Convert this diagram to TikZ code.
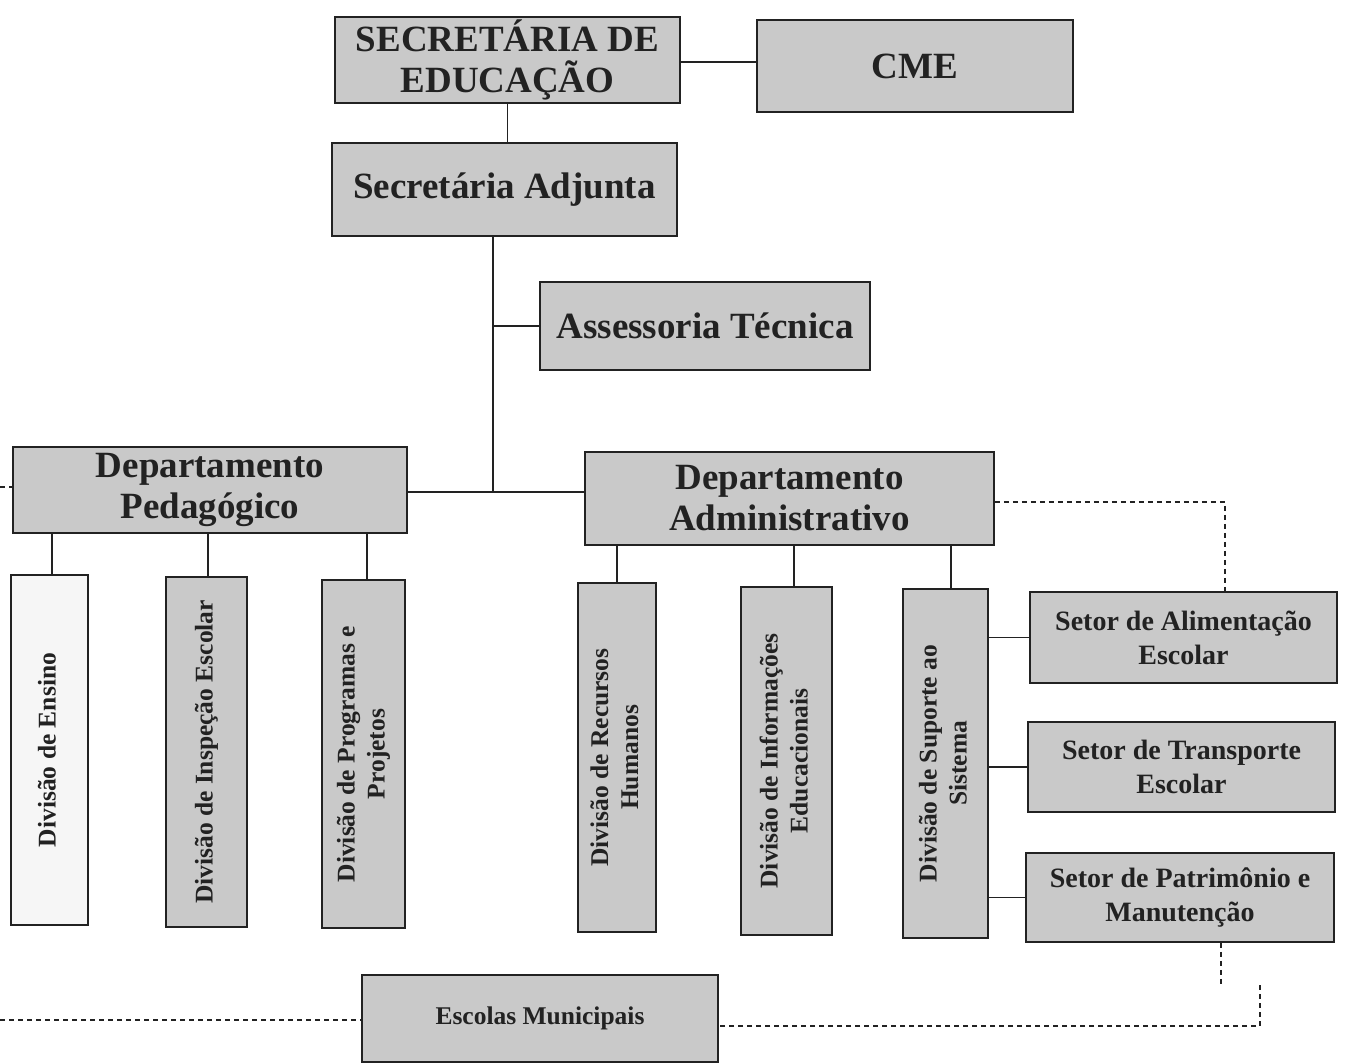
\documentclass[tikz,border=0pt]{standalone}
\usepackage{fontspec}
\setmainfont{Liberation Serif}
\usepackage{graphicx}
\definecolor{boxgray}{HTML}{C9C9C9}
\definecolor{boxwhite}{HTML}{F6F6F6}
\definecolor{ink}{HTML}{222222}
\newcommand{\vlabel}[1]{\rotatebox{90}{\begin{tabular}{@{}c@{}}#1\end{tabular}}}
\begin{document}
\begin{tikzpicture}[x=1pt,y=-1pt,
  box/.style={draw=ink, line width=1.6pt, fill=boxgray, inner sep=0pt, align=center, text=ink},
  big/.style={font=\bfseries\fontsize{37}{41}\selectfont},
  mid/.style={font=\bfseries\fontsize{28}{34}\selectfont},
  small/.style={font=\bfseries\fontsize{25.5}{30}\selectfont},
  lnk/.style={line width=1.4pt, draw=ink},
  dsh/.style={line width=1.3pt, draw=ink, dash pattern=on 5pt off 4pt}]
\useasboundingbox (0,0) rectangle (1345,1064);
\fill[white] (0,0) rectangle (1345,1064);
% top level
\node[box, big, minimum width=345pt, minimum height=86pt] (se) at (507.5,60) {SECRETÁRIA DE\\EDUCAÇÃO};
\node[box, big, minimum width=316pt, minimum height=92pt] (cme) at (915,66) {CME};
\node[box, big, minimum width=345pt, minimum height=93pt] (sa) at (504.5,189.5) {Secretária Adjunta};
\node[box, big, minimum width=330pt, minimum height=88pt] (at) at (705,326) {Assessoria Técnica};
% departments
\node[box, big, minimum width=394pt, minimum height=86pt] (dp) at (210,490) {Departamento\\Pedagógico};
\node[box, big, minimum width=409pt, minimum height=93pt] (da) at (789.5,498.5) {Departamento\\Administrativo};
% divisions
\node[box, small, fill=boxwhite, minimum width=77pt, minimum height=350pt] (de) at (49.5,750) {\vlabel{Divisão de Ensino}};
\node[box, small, minimum width=81pt, minimum height=350pt] (die) at (206.5,752) {\vlabel{Divisão de Inspeção Escolar}};
\node[box, small, minimum width=83pt, minimum height=348pt] (dpp) at (363.5,754) {\vlabel{Divisão de Programas e\\Projetos}};
\node[box, small, minimum width=78pt, minimum height=349pt] (drh) at (617,757.5) {\vlabel{Divisão de Recursos\\Humanos}};
\node[box, small, minimum width=91pt, minimum height=348pt] (dinf) at (786.5,761) {\vlabel{Divisão de Informações\\Educacionais}};
\node[box, small, minimum width=85pt, minimum height=349pt] (dss) at (945.5,763.5) {\vlabel{Divisão de Suporte ao\\Sistema}};
% sectors
\node[box, mid, minimum width=307pt, minimum height=91pt] (sae) at (1183.5,637.5) {Setor de Alimentação\\Escolar};
\node[box, mid, minimum width=307pt, minimum height=90pt] (ste) at (1181.5,767) {Setor de Transporte\\Escolar};
\node[box, mid, minimum width=308pt, minimum height=89pt] (spm) at (1180,897.5) {Setor de Patrimônio e\\Manutenção};
% schools
\node[box, small, minimum width=356pt, minimum height=87pt] (em) at (540,1018.5) {Escolas Municipais};
% helper coordinates
\coordinate (hub) at (493,492);
\coordinate (c1) at (1225,0);
\coordinate (c2) at (1221,985);
\coordinate (c3) at (1260,985);
\coordinate (c4) at (0,1020);
\coordinate (c5) at (0,487);
% solid connectors
\draw[lnk] (se.east |- 0,62) -- (cme.west |- 0,62);
\draw[lnk] (se.south) -- (se.south |- sa.north);
\draw[lnk] (sa.south -| hub) -- (hub);
\draw[lnk] (hub |- at.west) -- (at.west);
\draw[lnk] (dp.east |- hub) -- (da.west |- hub);
\draw[lnk] ([xshift=2.5pt]de.north) -- ([xshift=2.5pt]de.north |- dp.south);
\draw[lnk] ([xshift=1.5pt]die.north) -- ([xshift=1.5pt]die.north |- dp.south);
\draw[lnk] ([xshift=3.5pt]dpp.north) -- ([xshift=3.5pt]dpp.north |- dp.south);
\draw[lnk] (drh.north) -- (drh.north |- da.south);
\draw[lnk] ([xshift=7.5pt]dinf.north) -- ([xshift=7.5pt]dinf.north |- da.south);
\draw[lnk] ([xshift=5.5pt]dss.north) -- ([xshift=5.5pt]dss.north |- da.south);
\draw[lnk] (dss.east |- sae.west) -- (sae.west);
\draw[lnk] (dss.east |- ste.west) -- (ste.west);
\draw[lnk] (dss.east |- spm.west) -- (spm.west);
% dashed connectors
\draw[dsh] (da.east |- 0,502) -| (c1 |- sae.north);
\draw[dsh] (c2 |- spm.south) -- (c2);
\draw[dsh] (c3) |- (em.east |- 0,1026);
\draw[dsh] (c4) -- (em.west |- c4);
\draw[dsh] (c5) -- (dp.west |- c5);
\end{tikzpicture}
\end{document}
